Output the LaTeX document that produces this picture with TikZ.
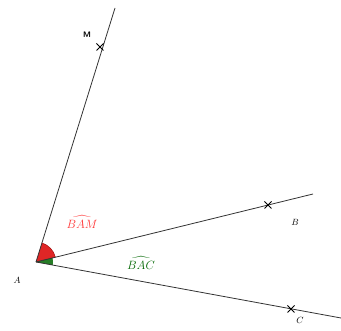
\documentclass[tikz,border=0pt]{standalone}
\usepackage{amsmath}
\begin{document}
\begin{tikzpicture}[x=1pt,y=1pt,
  ray/.style={draw=black!80, line width=0.8pt},
  crossmark/.style={draw=black, line width=0.9pt},
  ptlabel/.style={font=\small, inner sep=1pt},
  anglabel/.style={font=\fontsize{13}{15}\selectfont, inner sep=1pt}]
\useasboundingbox (0,0) rectangle (341,331);
\coordinate (A) at (36,69);
\coordinate (Mend) at (115,323);
\coordinate (Bend) at (313,137);
\coordinate (Cend) at (341,13);
\coordinate (M) at (100,284);
\coordinate (B) at (268,126);
\coordinate (C) at (291,22);
% angle sectors
\fill[red!85!black, opacity=0.85] (A) -- ++(13.8:20) arc (13.8:72.7:20) -- cycle;
\fill[green!40!black, opacity=0.85] (A) -- ++(-10.4:17) arc (-10.4:13.8:17) -- cycle;
\draw[red!60!black, line width=0.4pt] (A) ++(13.8:20) arc (13.8:72.7:20);
% rays
\draw[ray] (A) -- (Mend);
\draw[ray] (A) -- (Bend);
\draw[ray] (A) -- (Cend);
% crosses
\foreach \p in {M,B,C}{
  \draw[crossmark] (\p) ++(-3.5,-3.5) -- ++(7,7);
  \draw[crossmark] (\p) ++(-3.5,3.5) -- ++(7,-7);
}
% labels
\node[ptlabel, font=\footnotesize\sffamily\bfseries] (lM) at (87,296) {M};
\node[ptlabel] (lB) at (295,109) {$B$};
\node[ptlabel] (lC) at (300,11) {$C$};
\node[ptlabel] (lA) at (17,51) {$A$};
\node[anglabel, text=red!80] (lBAM) at (82,109) {$\widehat{BAM}$};
\node[anglabel, text=green!40!black] (lBAC) at (141,68) {$\widehat{BAC}$};
\end{tikzpicture}
\end{document}
